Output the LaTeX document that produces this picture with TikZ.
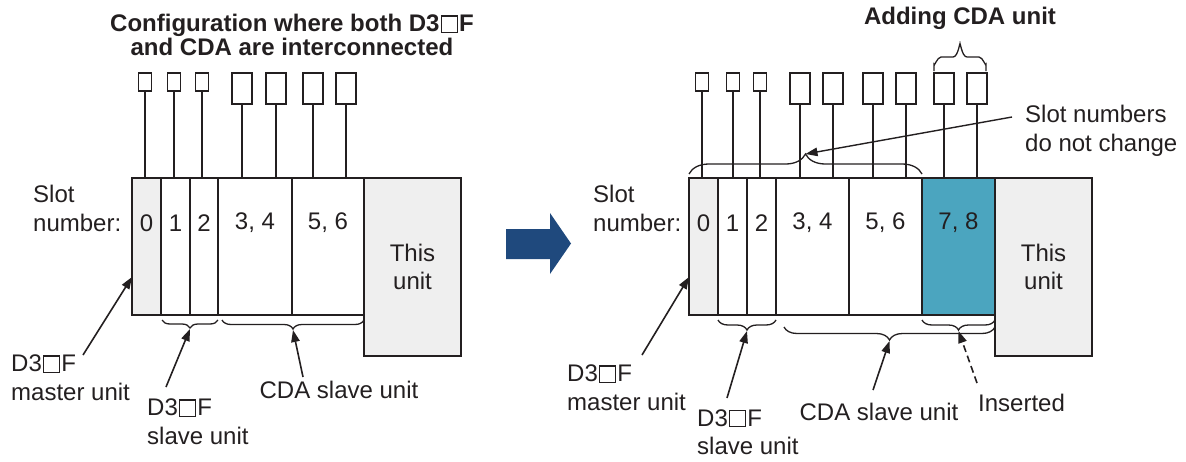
\documentclass[tikz,border=0pt]{standalone}
\usepackage{fontspec}
\setmainfont{Liberation Sans}
\usetikzlibrary{arrows.meta,decorations.pathreplacing,calc}
\definecolor{ink}{HTML}{231F20}
\definecolor{lgray}{HTML}{EFEFEF}
\definecolor{tealfill}{HTML}{4BA5BF}
\definecolor{navy}{HTML}{1F497D}
\newcommand\opensq{\kern0.06em{\setlength{\fboxsep}{0pt}\setlength{\fboxrule}{1.1pt}\fbox{\rule{0pt}{15pt}\rule{14.5pt}{0pt}}}\kern0.06em}
\tikzset{
  txt/.style={font=\fontsize{24}{28.5}\selectfont, text=ink, inner sep=0pt},
  ttl/.style={font=\bfseries\fontsize{24}{24}\selectfont, text=ink, inner sep=0pt, align=center},
  slotbox/.style={draw=ink, line width=1.6pt, inner sep=0pt, outer sep=0pt, anchor=north west, minimum height=137pt},
  unitbox/.style={draw=ink, line width=1.6pt, fill=lgray, inner sep=0pt, outer sep=0pt, anchor=north west, minimum width=97pt, minimum height=178pt, align=center, font=\fontsize{24}{28.5}\selectfont, text=ink},
  smallconn/.style={draw=ink, line width=1.3pt, inner sep=0pt, outer sep=0pt, minimum width=13pt, minimum height=18pt},
  largeconn/.style={draw=ink, line width=1.3pt, inner sep=0pt, outer sep=0pt, minimum width=20pt, minimum height=31pt},
  thickwire/.style={draw=ink, line width=2.6pt},
  thinwire/.style={draw=ink, line width=1.3pt},
  bracestyle/.style={draw=ink, line width=1.3pt, decorate, decoration={brace, amplitude=#1}},
  pointer/.style={draw=ink, line width=1.6pt, -{Triangle[length=12pt,width=8.5pt]}},
}
\begin{document}
\begin{tikzpicture}[x=1pt,y=-1pt]
\useasboundingbox (0,0) rectangle (1186,461);
\coordinate (numrow) at (0,223);

% ---------------- Left diagram ----------------
\node[ttl] (Ltitle) at (292,35) {Configuration where both D3\opensq F\\and CDA are interconnected};

\node[slotbox, fill=lgray, minimum width=29pt] (L0) at (132,178) {};
\node[slotbox, fill=white, minimum width=29pt] (L1) at (161,178) {};
\node[slotbox, fill=white, minimum width=28pt] (L2) at (190,178) {};
\node[slotbox, fill=white, minimum width=74pt] (L3) at (218,178) {};
\node[slotbox, fill=white, minimum width=72pt] (L5) at (292,178) {};
\node[unitbox] (LT) at (364,178) {This\\unit};

\node[txt] (Ln0) at (L0 |- numrow) {0};
\node[txt] (Ln1) at (L1 |- numrow) {1};
\node[txt] (Ln2) at (L2 |- numrow) {2};
\node[txt] (Ln3) at (L3 |- numrow) {3, 4};
\node[txt] (Ln5) at (L5 |- numrow) {5, 6};

\node[txt, anchor=west, align=left] (Lslot) at (33,208.5) {Slot\\number:};

\node[smallconn] (LB1) at (145,82) {};
\node[smallconn] (LB2) at (174,82) {};
\node[smallconn] (LB3) at (202,82) {};
\node[largeconn] (LB4) at (242,88.5) {};
\node[largeconn] (LB5) at (276,88.5) {};
\node[largeconn] (LB6) at (313,88.5) {};
\node[largeconn] (LB7) at (346,88.5) {};
\draw[thickwire] (LB1.south) -- (LB1 |- L0.north);
\draw[thickwire] (LB2.south) -- (LB2 |- L0.north);
\draw[thickwire] (LB3.south) -- (LB3 |- L0.north);
\draw[thinwire] (LB4.south) -- (LB4 |- L0.north);
\draw[thinwire] (LB5.south) -- (LB5 |- L0.north);
\draw[thinwire] (LB6.south) -- (LB6 |- L0.north);
\draw[thinwire] (LB7.south) -- (LB7 |- L0.north);

\draw[bracestyle=8pt] (218,320) -- (162,320);
\draw[bracestyle=9pt] (364,320) -- (222,320);
\coordinate (Lbt1) at (190,329);
\coordinate (Lbt2) at (293,330);

\node[txt, anchor=west, align=left] (Lmaster) at (11,377.5) {D3\opensq F\\master unit};
\node[txt, anchor=west, align=left] (Lslave) at (147,421.5) {D3\opensq F\\slave unit};
\node[txt] (Lcda) at (339,390) {CDA slave unit};
\coordinate (Lms) at (83,355);
\coordinate (Lss) at (166,387);
\coordinate (Lcs) at (303,377);
\coordinate (Lmt) at (132,277);
\draw[pointer] (Lms) -- (Lmt);
\draw[pointer] (Lss) -- (Lbt1);
\draw[pointer] (Lcs) -- (Lbt2);

% ---------------- Big arrow ----------------
\fill[navy] (506,229) -- (550,229) -- (550,213) -- (571,243.5) -- (550,274) -- (550,259) -- (506,259) -- cycle;

% ---------------- Right diagram ----------------
\node[ttl] (Rtitle) at (960,18) {Adding CDA unit};

\node[slotbox, fill=lgray, minimum width=29pt] (R0) at (689,178) {};
\node[slotbox, fill=white, minimum width=29pt] (R1) at (718,178) {};
\node[slotbox, fill=white, minimum width=29pt] (R2) at (747,178) {};
\node[slotbox, fill=white, minimum width=73pt] (R3) at (776,178) {};
\node[slotbox, fill=white, minimum width=73pt] (R5) at (849,178) {};
\node[slotbox, fill=tealfill, minimum width=73pt] (R7) at (922,178) {};
\node[unitbox] (RT) at (995,178) {This\\unit};

\node[txt] (Rn0) at (R0 |- numrow) {0};
\node[txt] (Rn1) at (R1 |- numrow) {1};
\node[txt] (Rn2) at (R2 |- numrow) {2};
\node[txt] (Rn3) at (R3 |- numrow) {3, 4};
\node[txt] (Rn5) at (R5 |- numrow) {5, 6};
\node[txt] (Rn7) at (R7 |- numrow) {7, 8};

\node[txt, anchor=west, align=left] (Rslot) at (593,208.5) {Slot\\number:};

\node[smallconn] (RB1) at (702,82) {};
\node[smallconn] (RB2) at (733,82) {};
\node[smallconn] (RB3) at (760,82) {};
\node[largeconn] (RB4) at (800,88.5) {};
\node[largeconn] (RB5) at (833,88.5) {};
\node[largeconn] (RB6) at (873,88.5) {};
\node[largeconn] (RB7) at (906,88.5) {};
\node[largeconn] (RB8) at (944,88.5) {};
\node[largeconn] (RB9) at (977,88.5) {};
\draw[thickwire] (RB1.south) -- (RB1 |- R0.north);
\draw[thickwire] (RB2.south) -- (RB2 |- R0.north);
\draw[thickwire] (RB3.south) -- (RB3 |- R0.north);
\draw[thinwire] (RB4.south) -- (RB4 |- R0.north);
\draw[thinwire] (RB5.south) -- (RB5 |- R0.north);
\draw[thinwire] (RB6.south) -- (RB6 |- R0.north);
\draw[thinwire] (RB7.south) -- (RB7 |- R0.north);
\draw[thinwire] (RB8.south) -- (RB8 |- R0.north);
\draw[thinwire] (RB9.south) -- (RB9 |- R0.north);

% brace over the added connectors
\draw[thinwire] (934,71) -- (934,64) to[out=-90,in=180] (941,57) -- (953,57) to[out=0,in=90] (960,45)
  to[out=90,in=180] (967,57) -- (979,57) to[out=0,in=-90] (986,64) -- (986,71);
% brace over the existing slots
\draw[bracestyle=20pt] (689,174) -- (922,174);
\coordinate (Rbtop) at (805.5,154);

\draw[bracestyle=10pt] (776,320) -- (718,320);
\draw[bracestyle=13pt] (995,327) -- (784,327);
\draw[bracestyle=10pt] (995,320) -- (922,320);
\coordinate (RbA) at (747,331);
\coordinate (RbB) at (889.5,341);
\coordinate (RbC) at (958.5,331);

\node[txt, anchor=west, align=left] (Rnote) at (1025,131) {Slot numbers\\do not change};
\node[txt, anchor=west, align=left] (Rmaster) at (567,387.5) {D3\opensq F\\master unit};
\node[txt, anchor=west, align=left] (Rslave) at (697,432) {D3\opensq F\\slave unit};
\node[txt] (Rcda) at (879,412) {CDA slave unit};
\node[txt, anchor=west] (Rins) at (978,403) {Inserted};

\coordinate (Rns) at (1012,117);
\coordinate (Rms) at (642,355);
\coordinate (Rmt) at (689,277);
\coordinate (Rss) at (727,398);
\coordinate (Rcs) at (873,390);
\coordinate (Ris) at (977,383);
\draw[pointer, line width=1.4pt] (Rns) -- (Rbtop);
\draw[pointer] (Rms) -- (Rmt);
\draw[pointer] (Rss) -- (RbA);
\draw[pointer] (Rcs) -- (RbB);
\draw[pointer, dash pattern=on 7pt off 4pt] (Ris) -- (RbC);
\end{tikzpicture}
\end{document}
